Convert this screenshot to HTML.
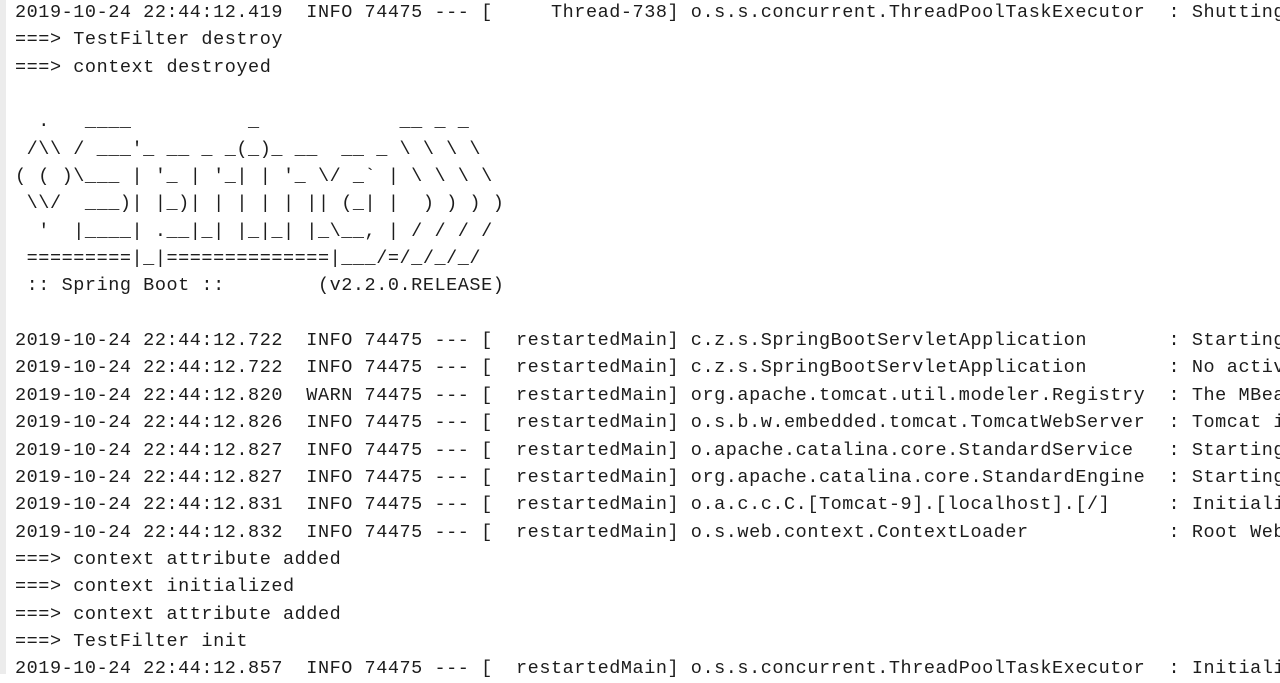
<!DOCTYPE html>
<html><head><meta charset="utf-8"><style>
html,body{margin:0;padding:0;background:#fff;width:1280px;height:674px;overflow:hidden;}
.bar{position:absolute;left:0;top:0;width:6px;height:674px;background:#ececec;}
pre{position:absolute;left:15px;top:-1px;margin:0;font-family:"Liberation Mono",monospace;font-size:18.5px;letter-spacing:0.55px;line-height:27.35px;color:#1c1c1c;white-space:pre;}
</style></head><body>
<div class="bar"></div>
<pre>2019-10-24 22:44:12.419  INFO 74475 --- [     Thread-738] o.s.s.concurrent.ThreadPoolTaskExecutor  : Shutting
===&gt; TestFilter destroy
===&gt; context destroyed

  .   ____          _            __ _ _
 /\\ / ___'_ __ _ _(_)_ __  __ _ \ \ \ \
( ( )\___ | '_ | '_| | '_ \/ _` | \ \ \ \
 \\/  ___)| |_)| | | | | || (_| |  ) ) ) )
  '  |____| .__|_| |_|_| |_\__, | / / / /
 =========|_|==============|___/=/_/_/_/
 :: Spring Boot ::        (v2.2.0.RELEASE)

2019-10-24 22:44:12.722  INFO 74475 --- [  restartedMain] c.z.s.SpringBootServletApplication       : Starting
2019-10-24 22:44:12.722  INFO 74475 --- [  restartedMain] c.z.s.SpringBootServletApplication       : No activ
2019-10-24 22:44:12.820  WARN 74475 --- [  restartedMain] org.apache.tomcat.util.modeler.Registry  : The MBea
2019-10-24 22:44:12.826  INFO 74475 --- [  restartedMain] o.s.b.w.embedded.tomcat.TomcatWebServer  : Tomcat i
2019-10-24 22:44:12.827  INFO 74475 --- [  restartedMain] o.apache.catalina.core.StandardService   : Starting
2019-10-24 22:44:12.827  INFO 74475 --- [  restartedMain] org.apache.catalina.core.StandardEngine  : Starting
2019-10-24 22:44:12.831  INFO 74475 --- [  restartedMain] o.a.c.c.C.[Tomcat-9].[localhost].[/]     : Initiali
2019-10-24 22:44:12.832  INFO 74475 --- [  restartedMain] o.s.web.context.ContextLoader            : Root Web
===&gt; context attribute added
===&gt; context initialized
===&gt; context attribute added
===&gt; TestFilter init
2019-10-24 22:44:12.857  INFO 74475 --- [  restartedMain] o.s.s.concurrent.ThreadPoolTaskExecutor  : Initiali</pre>
</body></html>
